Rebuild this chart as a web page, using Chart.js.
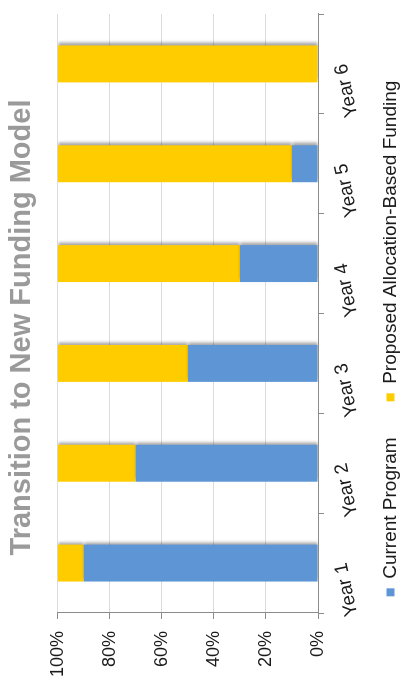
<!DOCTYPE html>
<html lang="en">
<head>
<meta charset="UTF-8">
<title>Transition to New Funding Model</title>
<script src="https://cdn.jsdelivr.net/npm/chart.js"></script>
<style>
  html, body { margin: 0; padding: 0; background: #fff; overflow: hidden; }
  /* chart is drawn as a normal column chart, then turned a quarter left */
  #wrap {
    position: absolute; left: 0; top: 0;
    width: 687px; height: 409px;
    transform-origin: 0 0;
    transform: translate(0, 687px) rotate(-90deg);
  }
</style>
</head>
<body>
<div id="wrap"><canvas id="fundingChart" width="687" height="409"></canvas></div>

<script>
// data
const years = ['Year 1', 'Year 2', 'Year 3', 'Year 4', 'Year 5', 'Year 6'];
const currentProgram = [90, 70, 50, 30, 10, 0];
const proposedFunding = [10, 30, 50, 70, 90, 100];
const percentTicks = [0, 20, 40, 60, 80, 100];

Chart.defaults.font.family = '"Liberation Sans", Arial, sans-serif';

const AXIS_GREY = '#8c8c8c';
const GRID_GREY = '#dcdcdc';

// legend: keep its box small, then lift its top and nudge title/legend centres
const boxTweak = {
  id: 'boxTweak',
  beforeLayout(chart) {
    const lg = chart.legend;
    if (lg && !lg._fixed) {
      const fit = lg.fit;
      lg.fit = function () { fit.call(this); this.height = 41; };
      lg._fixed = true;
    }
  },
  afterLayout(chart) {
    const lg = chart.legend;
    lg.top -= 23;
    lg.left = 24;
    chart.titleBlock.left = 46;
  }
};

// soft shadow behind the bars
const barShadow = {
  id: 'barShadow',
  beforeDatasetsDraw(chart) {
    const c = chart.ctx;
    c.save();
    c.shadowColor = 'rgba(0,0,0,0.35)';
    c.shadowBlur = 3;
    c.shadowOffsetX = 3;
    c.shadowOffsetY = 0;
  },
  afterDatasetsDraw(chart) {
    chart.ctx.restore();
  }
};

const ctx = document.getElementById('fundingChart').getContext('2d');
const fundingChart = new Chart(ctx, {
  type: 'bar',
  data: {
    labels: years,
    datasets: [
      {
        label: 'Current Program',
        data: currentProgram,
        backgroundColor: '#5e95d4',
        barPercentage: 0.37,
        categoryPercentage: 1
      },
      {
        label: 'Proposed Allocation-Based Funding',
        data: proposedFunding,
        backgroundColor: '#ffcc00',
        barPercentage: 0.37,
        categoryPercentage: 1
      }
    ]
  },
  options: {
    responsive: false,
    animation: false,
    layout: { padding: { left: 4, right: 14, top: 0, bottom: 0 } },
    plugins: {
      title: {
        display: true,
        text: 'Transition to New Funding Model',
        color: '#9a9a9a',
        font: { size: 29, weight: 'bold' },
        padding: { top: 5, bottom: 18 }
      },
      legend: {
        position: 'bottom',
        labels: {
          color: '#1a1a1a',
          font: { size: 19 },
          boxWidth: 8,
          boxHeight: 8,
          padding: 36
        }
      },
      tooltip: { enabled: false }
    },
    scales: {
      x: {
        stacked: true,
        offset: true,
        grid: {
          offset: true,
          drawOnChartArea: false,
          tickLength: 6,
          tickColor: AXIS_GREY
        },
        border: { color: AXIS_GREY },
        ticks: {
          color: '#1a1a1a',
          font: { size: 19 },
          minRotation: 12,
          maxRotation: 12,
          padding: 6
        },
        afterFit(s) { s.height = 50; }
      },
      y: {
        stacked: true,
        min: 0,
        max: 100,
        grid: {
          color: c => (c.tick && c.tick.value === 0 ? AXIS_GREY : GRID_GREY),
          tickLength: 6,
          tickColor: AXIS_GREY
        },
        border: { color: AXIS_GREY },
        ticks: {
          color: '#1a1a1a',
          font: { size: 18 },
          padding: 12,
          callback: v => v + '%'
        },
        afterBuildTicks(s) { s.ticks = percentTicks.map(v => ({ value: v })); },
        afterFit(s) { s.width = 70; }
      }
    }
  },
  plugins: [boxTweak, barShadow]
});
</script>
</body>
</html>
